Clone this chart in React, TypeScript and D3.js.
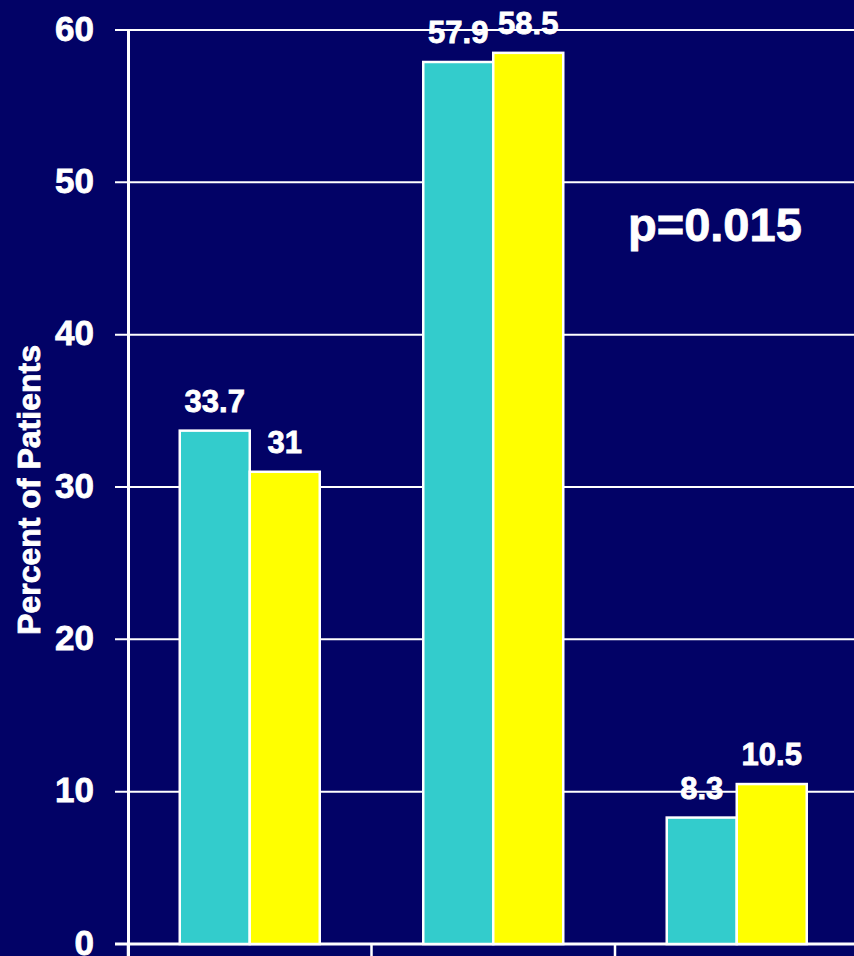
import React from "react";
import * as d3 from "d3";

const categories = ["A", "B", "C"];
const seriesNames = ["Group 1", "Group 2"];
const series1 = [33.7, 57.9, 8.3];
const series2 = [31, 58.5, 10.5];
const yTicks = [0, 10, 20, 30, 40, 50, 60];
const labels1 = ["33.7", "57.9", "8.3"];
const labels2 = ["31", "58.5", "10.5"];
const colors = ["#33CCCC", "#FFFF00"];

const W = 854;
const H = 956;
const BG = "#020266";
const FONT = "'Liberation Sans', Arial, sans-serif";

export default function App() {
  const x0 = d3.scaleBand<string>().domain(categories).range([128, 858.5]).paddingInner(0).paddingOuter(0);
  const groupW = 140;
  const x1 = d3.scaleBand<string>().domain(seriesNames).range([0, groupW]).padding(0);
  const y = d3.scaleLinear().domain([0, 60]).range([944, 30]);

  const data = categories.map((c, i) => ({
    c,
    vals: [
      { s: seriesNames[0], v: series1[i], label: labels1[i] },
      { s: seriesNames[1], v: series2[i], label: labels2[i] },
    ],
  }));

  const heavy = { stroke: "#fff", strokeWidth: 0.8 };

  return (
    <svg
      width={W}
      height={H}
      style={{ position: "absolute", left: 0, top: 0, background: BG, display: "block" }}
    >
      <rect x={0} y={0} width={W} height={H} fill={BG} />
      {yTicks.map((t) => (
        <g key={t}>
          <line x1={115} x2={W} y1={y(t)} y2={y(t)} stroke="#fff" strokeWidth={t === 0 ? 3 : 2} />
          <text
            x={94}
            y={y(t)}
            dy="0.3em"
            textAnchor="end"
            fill="#fff"
            fontFamily={FONT}
            fontWeight="bold"
            fontSize={35}
            {...heavy}
          >
            {t}
          </text>
        </g>
      ))}
      <line x1={128.5} x2={128.5} y1={y(60)} y2={H} stroke="#fff" strokeWidth={3} />
      {categories.map((c) => (
        <line key={c} x1={x0(c)!} x2={x0(c)!} y1={944} y2={H} stroke="#fff" strokeWidth={2.5} />
      ))}
      {data.map((d) => {
        const gx = x0(d.c)! + (x0.bandwidth() - groupW) / 2;
        return (
          <g key={d.c} transform={`translate(${gx},0)`}>
            {d.vals.map((v, j) => (
              <g key={v.s}>
                <rect
                  x={x1(v.s)!}
                  y={y(v.v)}
                  width={x1.bandwidth()}
                  height={y(0) - y(v.v)}
                  fill={colors[j]}
                  stroke="#fff"
                  strokeWidth={2.5}
                />
                <text
                  x={x1(v.s)! + x1.bandwidth() / 2}
                  y={y(v.v) - 19}
                  textAnchor="middle"
                  fill="#fff"
                  fontFamily={FONT}
                  fontWeight="bold"
                  fontSize={31}
                  {...heavy}
                >
                  {v.label}
                </text>
              </g>
            ))}
          </g>
        );
      })}
      <text
        x={628}
        y={241}
        fill="#fff"
        fontFamily={FONT}
        fontWeight="bold"
        fontSize={47}
        {...heavy}
      >
        p=0.015
      </text>
      <text
        transform={`translate(40,490) rotate(-90)`}
        textAnchor="middle"
        fill="#fff"
        fontFamily={FONT}
        fontWeight="bold"
        fontSize={32}
        {...heavy}
      >
        Percent of Patients
      </text>
    </svg>
  );
}
